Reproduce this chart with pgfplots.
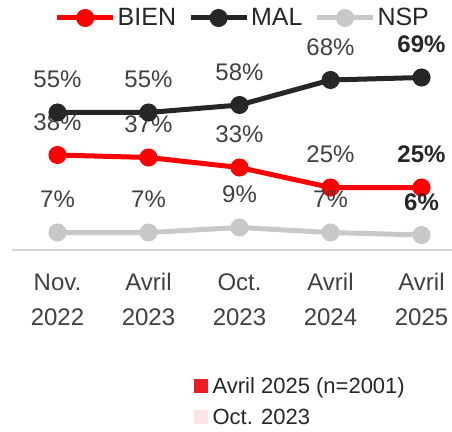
\documentclass[border=0pt]{standalone}
\usepackage{pgfplots}
\pgfplotsset{compat=1.18}
\usepackage{fontspec}
\setmainfont{Liberation Sans}
\definecolor{bien}{HTML}{FF0000}
\definecolor{mal}{HTML}{262626}
\definecolor{nsp}{HTML}{C8C8C8}
\definecolor{lab}{HTML}{404040}
\definecolor{pinkc}{HTML}{FCE4E6}
\definecolor{redsq}{HTML}{ED1C24}
\definecolor{axl}{HTML}{D9D9D9}
\begin{document}
\begin{tikzpicture}
\path[use as bounding box] (0pt,-184pt) rectangle (452pt,247pt);
\begin{axis}[
  at={(12pt,-3pt)}, anchor=south west,
  x=91pt, y=2.5pt,
  xmin=-0.5, xmax=4.35, ymin=0, ymax=80,
  axis x line*=bottom, axis y line=none,
  axis line style={-, draw=axl, line width=1.2pt},
  xtick={0,1,2,3,4},
  xticklabels={{Nov.\\2022},{Avril\\2023},{Oct.\\2023},{Avril\\2024},{Avril\\2025}},
  xticklabel style={align=center, font=\fontsize{24}{35}\selectfont, text=lab, yshift=-20pt},
  major tick length=0pt,
  ytick=\empty,
  clip=false,
  every axis plot/.append style={line width=5pt, mark=*, mark size=6.5pt},
  nodes near coords,
  point meta=explicit symbolic,
  every node near coord/.append style={anchor=center, yshift=33pt, font=\fontsize{24}{28}\selectfont, text=lab},
  legend columns=3,
  legend style={draw=none, fill=none, at={(0.523,1.16)}, anchor=center,
    font=\fontsize{25}{30}\selectfont, text=mal, /tikz/every even column/.append style={column sep=10pt}},
  legend image code/.code={\draw[#1, mark repeat=2, mark phase=2] plot coordinates {(0pt,0pt)(28pt,0pt)(56pt,0pt)};},
]
\addplot[color=bien, mark options={fill=bien}] coordinates {
  (0,38) [38\%] (1,37) [37\%] (2,33) [33\%] (3,25) [25\%] (4,25) [\textbf{\color{mal}25\%}]
};
\addlegendentry{BIEN}
\addplot[color=mal, mark options={fill=mal}] coordinates {
  (0,55) [55\%] (1,55) [55\%] (2,58) [58\%] (3,68) [68\%] (4,69) [\textbf{\color{mal}69\%}]
};
\addlegendentry{MAL}
\addplot[color=nsp, mark options={fill=nsp}] coordinates {
  (0,7) [7\%] (1,7) [7\%] (2,9) [9\%] (3,7) [7\%] (4,6) [\textbf{\color{mal}6\%}]
};
\addlegendentry{NSP}
\end{axis}
\begin{axis}[
  at={(0pt,-184pt)}, anchor=south west,
  scale only axis, width=452pt, height=431pt,
  xmin=0, xmax=452, ymin=0, ymax=431,
  hide axis,
  legend cell align=left,
  legend style={draw=none, fill=none, at={(axis cs:191,58)}, anchor=north west,
    font=\fontsize{22}{26}\selectfont, text=mal, row sep=10pt,
    nodes={inner xsep=5pt}},
]
\addlegendimage{legend image code/.code={\fill[redsq] (0pt,-6.5pt) rectangle (13pt,6.5pt);}}
\addlegendentry{Avril 2025 (n=2001)}
\addlegendimage{legend image code/.code={\fill[pinkc] (0pt,-6.5pt) rectangle (13pt,6.5pt);}}
\addlegendentry{Oct. 2023}
\end{axis}
\end{tikzpicture}
\end{document}
